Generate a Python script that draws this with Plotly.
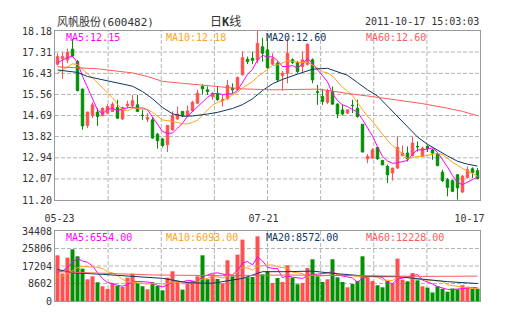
import plotly.graph_objects as go

# Daily OHLC, 600482, 2011-05-23 .. 2011-10-17 (85 sessions)
opens = [16.81, 17.05, 16.98, 17.43, 16.92, 15.78, 14.28, 14.69, 14.83, 14.69,
         14.79, 14.86, 15.02, 14.55, 15.09, 15.10, 15.13, 14.70, 14.54, 14.51,
         13.92, 13.72, 13.48, 14.10, 14.55, 14.86, 14.69, 14.88, 15.20, 15.89,
         15.75, 15.47, 15.60, 15.30, 15.38, 15.82, 15.75, 16.37, 17.01, 17.05,
         16.98, 17.53, 17.40, 16.81, 16.85, 16.34, 16.44, 16.99, 16.88, 16.71,
         16.81, 16.99, 15.67, 15.47, 15.24, 15.68, 15.16, 14.92, 14.79, 15.11,
         14.99, 14.33, 12.90, 12.93, 13.37, 12.83, 12.59, 12.31, 12.52, 13.04,
         13.14, 13.04, 13.41, 13.00, 13.41, 13.27, 13.09, 12.35, 12.04, 12.00,
         12.24, 11.53, 12.13, 12.49, 12.41]
highs = [17.25, 17.30, 17.45, 17.85, 16.98, 15.80, 14.85, 15.24, 14.99, 15.02,
         15.16, 15.24, 15.34, 15.06, 15.30, 15.54, 15.54, 14.92, 14.79, 14.61,
         13.96, 13.76, 14.29, 14.86, 15.06, 14.86, 15.10, 15.30, 15.75, 15.98,
         15.89, 15.65, 15.89, 15.54, 16.16, 16.02, 16.30, 17.33, 17.12, 17.33,
         18.18, 17.90, 17.88, 17.26, 16.92, 16.53, 17.88, 17.05, 16.94, 17.33,
         17.67, 17.05, 15.95, 15.79, 15.79, 15.89, 15.20, 15.16, 14.95, 15.34,
         15.34, 14.33, 13.10, 13.34, 13.40, 12.86, 12.66, 12.52, 13.82, 13.45,
         13.41, 13.82, 13.62, 13.41, 13.48, 13.32, 13.18, 12.45, 12.11, 12.04,
         12.27, 12.24, 12.59, 12.55, 12.52]
lows = [16.75, 16.20, 16.85, 17.10, 15.68, 14.10, 14.17, 14.58, 14.26, 14.65,
        14.75, 14.86, 14.55, 14.51, 14.99, 14.99, 14.83, 14.51, 14.42, 13.73,
        13.32, 13.37, 13.18, 14.06, 14.51, 14.62, 14.65, 14.86, 15.16, 15.57,
        15.54, 15.34, 15.30, 15.06, 15.34, 15.61, 15.71, 16.34, 16.81, 16.81,
        16.85, 16.92, 16.62, 16.78, 16.09, 15.71, 16.02, 16.81, 16.44, 16.48,
        16.75, 16.02, 15.13, 15.13, 15.16, 15.13, 14.58, 14.69, 14.75, 14.79,
        14.60, 13.18, 12.72, 12.90, 12.86, 12.65, 11.90, 12.00, 12.49, 13.00,
        12.79, 13.00, 13.20, 12.98, 13.18, 12.86, 12.59, 11.94, 11.35, 11.53,
        11.21, 11.49, 12.08, 12.11, 12.05]
closes = [17.12, 17.12, 17.30, 17.15, 15.72, 14.26, 14.83, 15.13, 14.65, 14.99,
          15.06, 15.16, 14.58, 15.02, 15.16, 15.30, 14.86, 14.69, 14.61, 13.76,
          13.65, 13.45, 14.28, 14.69, 14.75, 14.69, 14.88, 15.24, 15.61, 15.79,
          15.68, 15.61, 15.34, 15.34, 15.93, 15.75, 16.26, 17.08, 16.92, 16.97,
          17.67, 17.26, 16.67, 17.03, 16.16, 16.44, 17.26, 16.88, 16.51, 16.99,
          17.63, 16.16, 15.65, 15.27, 15.71, 15.16, 14.75, 14.75, 14.92, 15.10,
          14.65, 13.18, 13.00, 13.27, 12.90, 12.65, 12.24, 12.52, 13.37, 13.14,
          12.90, 13.55, 13.40, 13.34, 13.33, 13.14, 12.63, 12.00, 11.72, 11.56,
          11.70, 12.18, 12.45, 12.33, 12.09]
volumes = [22460, 13500, 21310, 25410, 21970, 15910, 10670, 12140, 9190, 7230,
           5910, 8700, 7550, 6900, 11490, 13450, 8700, 7230, 5750, 9190,
           7390, 5260, 11490, 14600, 9680, 5590, 9520, 9850, 12140, 22460,
           10670, 13120, 10830, 8700, 20010, 12140, 22790, 30160, 11650, 11810,
           31780, 13120, 14600, 8860, 11320, 9360, 17550, 11490, 8210, 8860,
           16240, 20500, 12140, 9360, 10670, 20500, 11650, 9360, 6730, 8370,
           9850, 21970, 11490, 9850, 7720, 6730, 9850, 8540, 20820, 10500,
           9680, 13780, 10170, 7230, 6570, 4200, 7200, 6000, 4600, 6160,
           5800, 7800, 7000, 6100, 6070]

# Sessions just before the window, needed to start the MA5 / MA10 lines
prior_closes = [15.80, 15.90, 16.00, 16.10, 16.25, 16.60, 16.75, 16.90, 16.98]
prior_volumes = [9000, 9500, 9300, 9200, 9500, 11500, 12000, 12500, 13040]

# Longer averages (their history reaches far before the window)
ma20_idx = [0, 4, 6, 10, 13, 15, 17, 19, 21, 23, 25, 27, 30, 32, 35, 37, 39,
            41, 43, 45, 48, 51, 54, 56, 58, 60, 62, 64, 66, 68, 70, 72, 74,
            76, 78, 80, 82, 84]
ma20_val = [16.57, 16.47, 16.30, 16.12, 16.00, 15.90, 15.68, 15.38, 15.02,
            14.76, 14.66, 14.67, 14.75, 14.82, 14.98, 15.14, 15.38, 15.72,
            16.00, 16.18, 16.40, 16.60, 16.64, 16.50, 16.35, 16.05, 15.75,
            15.50, 15.08, 14.62, 14.20, 13.80, 13.50, 13.25, 13.02, 12.80,
            12.68, 12.60]
ma60_idx = [0, 5, 8, 12, 15, 18, 21, 25, 30, 33, 37, 43, 48, 52, 55, 58, 63,
            68, 73, 78, 81, 84]
ma60_val = [16.70, 16.66, 16.62, 16.52, 16.45, 16.30, 16.10, 16.02, 15.93,
            15.89, 15.79, 15.75, 15.75, 15.78, 15.70, 15.60, 15.47, 15.34,
            15.18, 14.99, 14.86, 14.68]
vol_ma20_idx = [0, 3, 9, 15, 21, 26, 31, 37, 41, 46, 51, 55, 59, 63, 68, 73,
                78, 84]
vol_ma20_val = [15500, 13900, 13100, 11960, 11140, 9000, 8700, 11100, 14400,
                14400, 14700, 13600, 12800, 11960, 11960, 10800, 9500, 8572]
vol_ma60_idx = [0, 6, 19, 33, 46, 59, 73, 84]
vol_ma60_val = [14400, 13900, 12800, 12450, 12780, 12450, 12100, 12228]

date_labels = ["05-23", "07-21", "10-17"]
date_label_pos = [0.4, 41.2, 82.4]
price_ticks = [11.20, 12.07, 12.94, 13.82, 14.69, 15.56, 16.43, 17.31, 18.18]
volume_ticks = [0, 8602, 17204, 25806, 34408]

RED = "#ff4f4f"
GREEN = "#048f04"
C_MA5 = "#ff00ff"
C_MA10 = "#ffa31a"
C_MA20 = "#0d3563"
C_MA60 = "#ff5a5a"
GRID = "#b4b4b4"
FRAME = "#999999"
MONO = "DejaVu Sans Mono, Noto Sans CJK SC, monospace"


def moving_average(history, values, n):
    series = list(history) + list(values)
    off = len(history)
    return [sum(series[off + i - n + 1: off + i + 1]) / n for i in range(len(values))]


x = list(range(len(closes)))
ma5 = moving_average(prior_closes, closes, 5)
ma10 = moving_average(prior_closes, closes, 10)
vma5 = moving_average(prior_volumes, volumes, 5)
vma10 = moving_average(prior_volumes, volumes, 10)
bar_colors = [RED if c >= o else GREEN for o, c in zip(opens, closes)]

# vertical grid: 8 equal time divisions across the 85 sessions
n = len(closes)
x_range = [-0.5, n - 0.5]
vgrid = [x_range[0] + k * n / 8 for k in range(1, 8)]

fig = go.Figure()
fig.add_trace(go.Candlestick(
    x=x, open=opens, high=highs, low=lows, close=closes,
    increasing=dict(line=dict(color=RED, width=1), fillcolor=RED),
    decreasing=dict(line=dict(color=GREEN, width=1), fillcolor=GREEN),
    hoverinfo="skip", xaxis="x", yaxis="y"))
for xs, ys, col in [(x, ma5, C_MA5), (x, ma10, C_MA10),
                    (ma20_idx, ma20_val, C_MA20), (ma60_idx, ma60_val, C_MA60)]:
    fig.add_trace(go.Scatter(x=xs, y=ys, mode="lines", line=dict(color=col, width=1),
                             hoverinfo="skip", xaxis="x", yaxis="y"))

fig.add_trace(go.Bar(x=x, y=volumes, width=0.8, marker=dict(color=bar_colors, line=dict(width=0)),
                     hoverinfo="skip", xaxis="x2", yaxis="y2"))
for xs, ys, col in [(x, vma5, C_MA5), (x, vma10, C_MA10),
                    (vol_ma20_idx, vol_ma20_val, C_MA20), (vol_ma60_idx, vol_ma60_val, C_MA60)]:
    fig.add_trace(go.Scatter(x=xs, y=ys, mode="lines", line=dict(color=col, width=1),
                             hoverinfo="skip", xaxis="x2", yaxis="y2"))

# date axis carrying only the labels
fig.add_trace(go.Scatter(x=[x[0]], y=[closes[0]], mode="markers", opacity=0,
                         hoverinfo="skip", xaxis="x3", yaxis="y"))

W, H = 505, 330
L, R, T, B = 55, 25, 31, 29
PW, PH = W - L - R, H - T - B


def px(xp):
    return (xp - L) / PW


def py(yp):
    return (H - B - yp) / PH


main_bottom = 200
vol_top = 231

frame = dict(showline=True, mirror=True, linecolor=FRAME, linewidth=1, zeroline=False,
             fixedrange=True, showgrid=False)
tickfont = dict(family=MONO, size=10, color="#333333")

fig.update_layout(
    width=W, height=H, margin=dict(l=L, r=R, t=T, b=B),
    paper_bgcolor="white", plot_bgcolor="rgba(0,0,0,0)", showlegend=False,
    boxgap=0.3,
    xaxis=dict(domain=[0, 1], anchor="y", range=x_range,
               showticklabels=False, ticks="",
               rangeslider=dict(visible=False), **frame),
    xaxis3=dict(overlaying="x", anchor="y", side="bottom", range=x_range,
                tickmode="array", tickvals=date_label_pos, ticktext=date_labels,
                ticks="outside", ticklen=9, tickcolor="rgba(0,0,0,0)",
                tickfont=tickfont, showgrid=False, showline=False, zeroline=False,
                fixedrange=True),
    yaxis=dict(domain=[py(main_bottom), 1], anchor="x", range=[11.20, 18.18],
               tickmode="array", tickvals=price_ticks,
               ticktext=["%.2f" % v for v in price_ticks],
               tickfont=tickfont, ticks="", **frame),
    xaxis2=dict(domain=[0, 1], anchor="y2", range=x_range,
                showticklabels=False, ticks="", **frame),
    yaxis2=dict(domain=[0, py(vol_top)], anchor="x2", range=[0, 34408],
                tickmode="array", tickvals=volume_ticks,
                ticktext=[str(v) for v in volume_ticks],
                tickfont=tickfont, ticks="", **frame),
)

# dashed grid behind the marks
grid_line = dict(color=GRID, width=1, dash="4px,2px")
for xa, ya, yticks in [("x", "y", price_ticks), ("x2", "y2", volume_ticks)]:
    for v in yticks[1:-1]:
        fig.add_shape(type="line", xref=xa + " domain", yref=ya, x0=0, x1=1, y0=v, y1=v,
                      line=grid_line, layer="below")
    for v in vgrid:
        fig.add_shape(type="line", xref=xa, yref=ya + " domain", x0=v, x1=v, y0=0, y1=1,
                      line=grid_line, layer="below")

texts = [
    ("风帆股份(600482)", 55, 22, "left", "#333333", 11),
    ("日<b>K</b>线", 225, 22, "center", "#333333", 12),
    ("2011-10-17 15:03:03", 481, 22, "right", "#333333", 10),
    ("MA5:12.15", 64, 37, "left", C_MA5, 10),
    ("MA10:12.18", 164, 37, "left", C_MA10, 10),
    ("MA20:12.60", 264, 37, "left", C_MA20, 10),
    ("MA60:12.60", 364, 37, "left", C_MA60, 10),
    ("MA5:6554.00", 64, 237, "left", C_MA5, 10),
    ("MA10:6093.00", 164, 237, "left", C_MA10, 10),
    ("MA20:8572.00", 264, 237, "left", C_MA20, 10),
    ("MA60:12228.00", 364, 237, "left", C_MA60, 10),
]
for txt, xp, yp, anchor, col, size in texts:
    fig.add_annotation(text=txt, xref="paper", yref="paper", x=px(xp), y=py(yp),
                       xanchor=anchor, yanchor="middle", showarrow=False,
                       font=dict(family=MONO, size=size, color=col))

fig.write_html("out.html", config={"displayModeBar": False, "staticPlot": True})
